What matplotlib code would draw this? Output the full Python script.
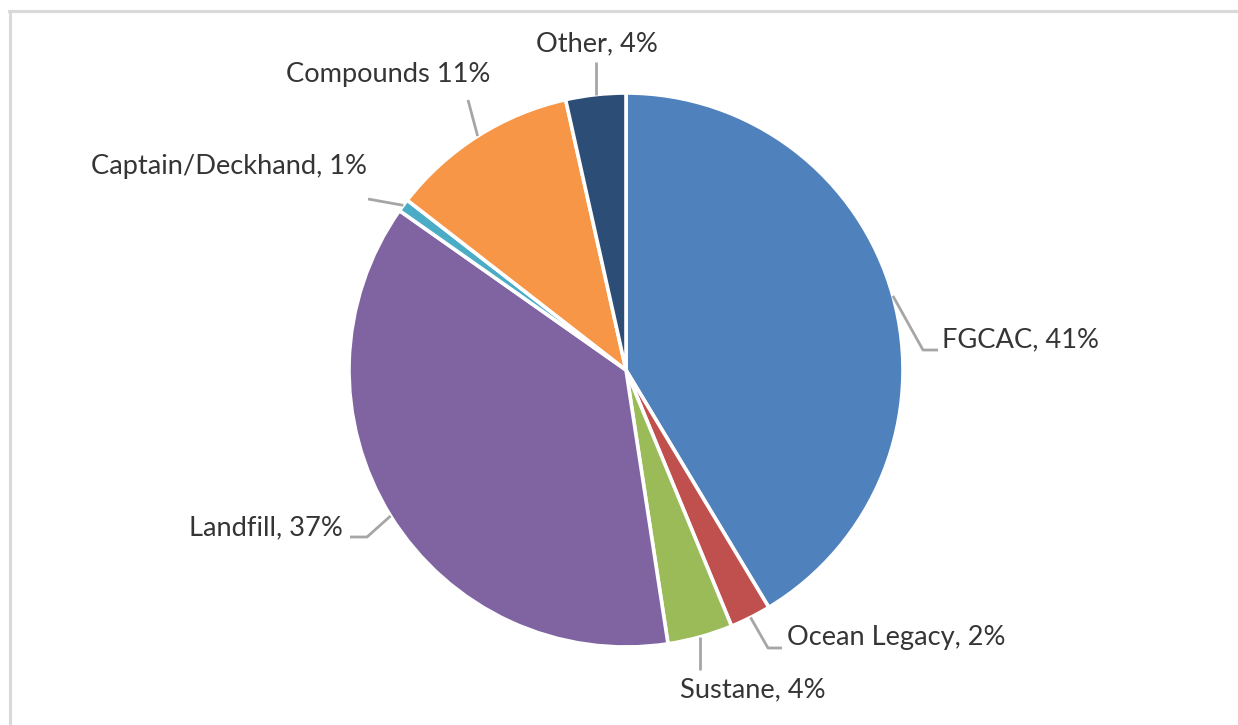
import numpy as np
import matplotlib
matplotlib.use("Agg")
import matplotlib.pyplot as plt
from matplotlib.lines import Line2D

# ---- data ----
categories = ["FGCAC", "Ocean Legacy", "Sustane", "Landfill",
              "Captain/Deckhand", "Compounds", "Other"]
values = [41.4, 2.4, 3.8, 37.2, 0.75, 11.0, 3.5]
label_texts = ["FGCAC, 41%", "Ocean Legacy, 2%", "Sustane, 4%", "Landfill, 37%",
               "Captain/Deckhand, 1%", "Compounds 11%", "Other, 4%"]
colors = ["#4F81BD", "#C0504D", "#9BBB59", "#8064A2",
          "#4BACC6", "#F79646", "#2C4D75"]

W, H = 1238, 725
fig = plt.figure(figsize=(W / 100, H / 100), dpi=100)
ax = fig.add_axes([0, 0, 1, 1])
ax.set_xlim(0, W)
ax.set_ylim(0, H)
ax.set_aspect("equal")
ax.axis("off")

cx, cy, r = 626, H - 370, 277
wedges, _ = ax.pie(values, colors=colors, startangle=90, counterclock=False,
                   radius=r, center=(cx, cy),
                   wedgeprops=dict(edgecolor="white", linewidth=2.6))
ax.set_xlim(0, W)
ax.set_ylim(0, H)

# label layout: (text x, text y in px-from-top, ha, elbow points list (px coords))
layout = [
    (942, 340, "left",  [(923, 350), (938, 350)]),
    (787, 638, "left",  [(768, 648), (782, 648)]),
    (680, 690, "left",  [(None, 670)]),
    (343, 528, "right", [(367, 537), (350, 537)]),
    (367, 166, "right", [(368, 199)]),
    (490, 74,  "right", [(468, 100)]),
    (536, 44,  "left",  [(None, 62)]),
]

for w, txt, (tx, ty, ha, pts) in zip(wedges, label_texts, layout):
    mid = np.deg2rad((w.theta1 + w.theta2) / 2)
    sx = cx + r * np.cos(mid)
    sy = cy + r * np.sin(mid)
    xs, ys = [sx], [sy]
    for px, py in pts:
        xs.append(sx if px is None else px)
        ys.append(H - py)
    ax.add_line(Line2D(xs, ys, color="#A6A6A6", lw=2, solid_capstyle="butt"))
    ax.text(tx, H - ty, txt, ha=ha, va="center", fontsize=19.6,
            family=["Lato", "DejaVu Sans"], color="#353535")

# chart area frame (top and left edges visible)
fig.add_artist(Line2D([9.5 / W, 9.5 / W], [0, 1 - 10.5 / H], transform=fig.transFigure,
                      color="#D9D9D9", lw=2.2))
fig.add_artist(Line2D([8.5 / W, 1], [1 - 10.5 / H, 1 - 10.5 / H], transform=fig.transFigure,
                      color="#D9D9D9", lw=2.2))

fig.savefig("out.png", dpi=100, facecolor="white")
